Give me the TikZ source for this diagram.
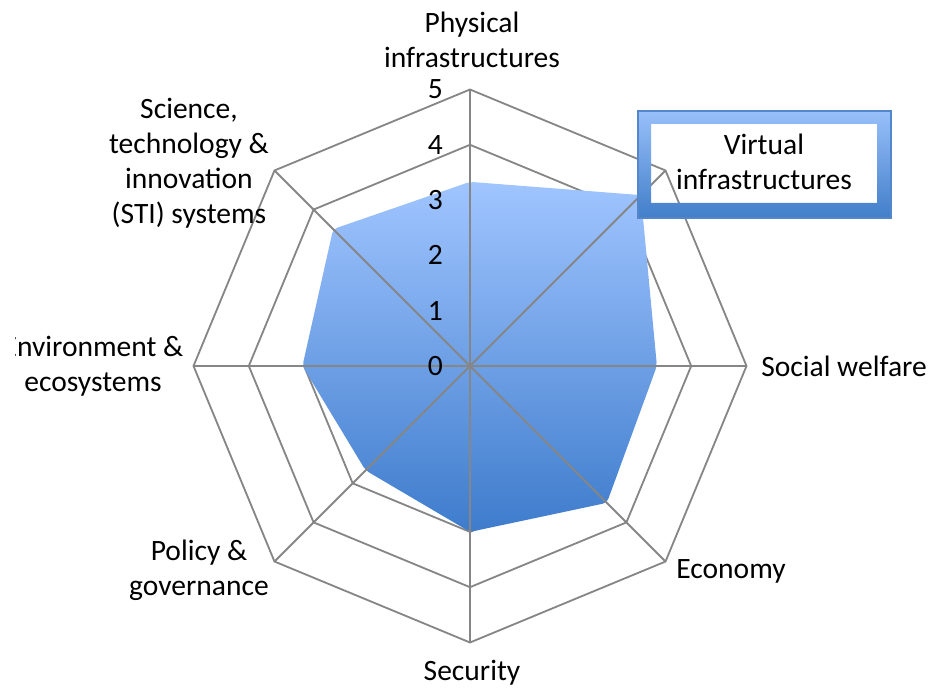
\documentclass[tikz,border=0pt]{standalone}
\usepackage{fontspec}
\setmainfont{Carlito}
\usepackage{tikz}
\usetikzlibrary{calc}
\definecolor{gridgray}{RGB}{134,134,134}
\definecolor{scoretop}{RGB}{160,197,255}
\definecolor{scorebot}{RGB}{62,124,204}
\definecolor{frametop}{RGB}{152,192,250}
\definecolor{framebot}{RGB}{66,126,202}
\definecolor{frameline}{RGB}{84,134,204}
\tikzstyle{grid}=[gridgray, line width=1.3pt, line join=miter]
\tikzstyle{axislabel}=[align=center, inner sep=0pt, font=\fontsize{21}{25}\selectfont]
\tikzstyle{ticklabel}=[anchor=east, inner sep=0pt, font=\fontsize{21}{25}\selectfont]

\begin{document}
\begin{tikzpicture}[x=0.025cm,y=-0.025cm]
        \useasboundingbox (0,0) rectangle (928,688);
        \coordinate (c) at (470,366);

        % rings
        \begin{scope}[shift={(c)}]
        \foreach \r in {1,...,5}
            \draw[grid] (-90:\r*55.3) \foreach \k in {1,...,7} { -- (\k*45-90:\r*55.3) } -- cycle;

        % scores
        \shade[top color=scoretop, bottom color=scorebot, rounded corners=3pt]
            (-90:3.33*55.3) \foreach \v [count=\k] in {4.37,3.38,3.5,3.0,2.67,3.03,3.5} { -- (\k*45-90:\v*55.3) } -- cycle;

        % spokes
        \foreach \k in {0,...,7}
            \draw[grid] (0,0) -- (\k*45-90:5*55.3);

        % scale
        \foreach \t in {0,...,5}
            \node[ticklabel] (tick\t) at (-27,-\t*55.3) {\t};
        \end{scope}

        % legend
        \shade[top color=frametop, bottom color=framebot, even odd rule]
            (638,111) rectangle (891,218) (651,124) rectangle (877,203);
        \draw[frameline, line width=0.8pt] (638,111) rectangle (891,218);
        \node[axislabel] (legend) at (764,162) {Virtual\\infrastructures};

        % axis names
        \node[axislabel] (phys) at (472,40) {Physical\\infrastructures};
        \node[axislabel, anchor=west] (social) at (761,366) {Social welfare};
        \node[axislabel] (econ) at (731,571) {Economy};
        \node[axislabel] (secu) at (472,673) {Security};
        \node[axislabel] (policy) at (199,570) {Policy \&\\governance};
        \begin{scope}
            \clip (15,0) rectangle (928,688);
            \node[axislabel] (env) at (93,366) {Environment \&\\ecosystems};
        \end{scope}
        \node[axislabel] (sti) at (189,163) {Science,\\technology \&\\innovation\\(STI) systems};

\end{tikzpicture}
\end{document}
